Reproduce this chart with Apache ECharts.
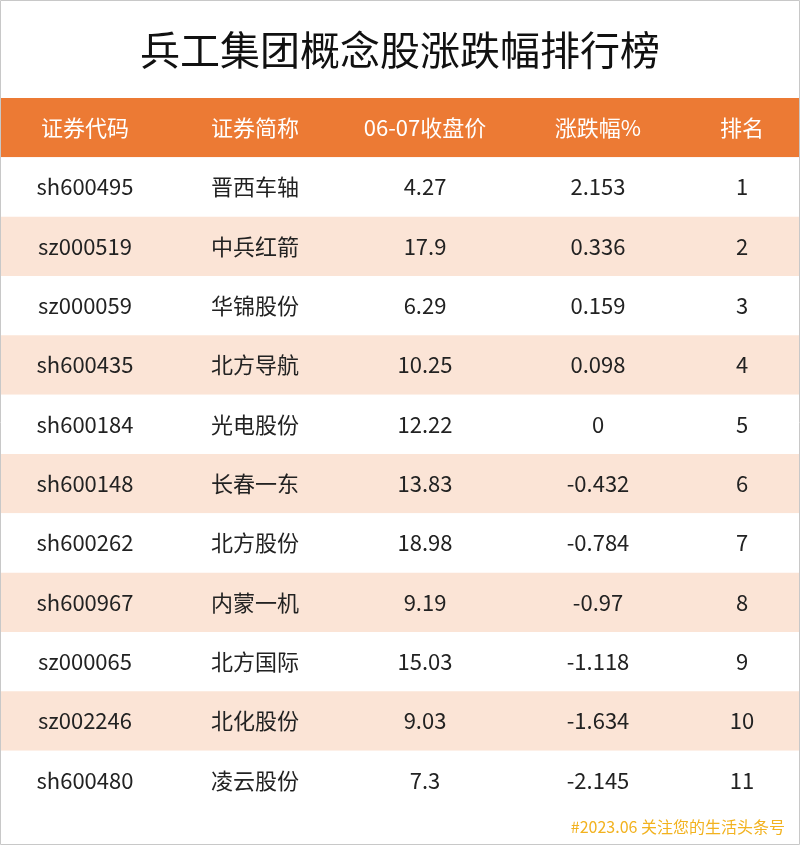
<!DOCTYPE html>
<html><head><meta charset="utf-8">
<script src="https://cdn.jsdelivr.net/npm/echarts@6/dist/echarts.min.js"></script>
<style>html,body{margin:0;padding:0;background:#fff}#c{width:800px;height:845px}</style>
</head><body><div id="c"></div>
<script>
// 表格数据
var headers = ['证券代码', '证券简称', '06-07收盘价', '涨跌幅%', '排名'];
var codes = ['sh600495','sz000519','sz000059','sh600435','sh600184','sh600148','sh600262','sh600967','sz000065','sz002246','sh600480'];
var names = ['晋西车轴','中兵红箭','华锦股份','北方导航','光电股份','长春一东','北方股份','内蒙一机','北方国际','北化股份','凌云股份'];
var prices = ['4.27','17.9','6.29','10.25','12.22','13.83','18.98','9.19','15.03','9.03','7.3'];
var changes = ['2.153','0.336','0.159','0.098','0','-0.432','-0.784','-0.97','-1.118','-1.634','-2.145'];
var ranks = ['1','2','3','4','5','6','7','8','9','10','11'];

var colX = [85, 255, 425, 598, 742];
var rows = [headers];
for (var i = 0; i < codes.length; i++) rows.push([codes[i], names[i], prices[i], changes[i], ranks[i]]);
var rowCats = rows.map(function (r, i) { return 'r' + i; });

var chart = echarts.init(document.getElementById('c'));
chart.setOption({
    animation: false,
    grid: {left: 0, right: 0, top: 98, bottom: 35},
    xAxis: {type: 'value', min: 0, max: 800, show: false},
    yAxis: {type: 'category', data: rowCats, inverse: true, show: false},
    graphic: [
        {type: 'rect', shape: {x: 0.5, y: 0.5, width: 799, height: 844}, style: {fill: 'none', stroke: '#c8c8c8', lineWidth: 1}, z: 10},
        {type: 'text', x: 400, y: 50, style: {text: '兵工集团概念股涨跌幅排行榜', font: '40px "Noto Sans CJK SC"', fill: '#111', align: 'center', verticalAlign: 'middle'}},
        {type: 'text', x: 785, y: 827, style: {text: '#2023.06 关注您的生活头条号', font: '16px "Noto Sans CJK SC"', fill: '#f2b21f', align: 'right', verticalAlign: 'middle'}}
    ],
    series: [{
        type: 'custom',
        data: rows.map(function (r, i) { return [i]; }),
        renderItem: function (params, api) {
            var idx = api.value(0);
            var c = api.coord([0, idx]);
            var h = api.size([0, 1])[1];
            var cs = params.coordSys;
            var fill = idx === 0 ? '#ec7a34' : (idx % 2 === 0 ? '#fbe4d6' : '#ffffff');
            var children = [{type: 'rect', shape: {x: cs.x, y: c[1] - h / 2, width: cs.width, height: h}, style: {fill: fill}}];
            rows[idx].forEach(function (t, j) {
                children.push({type: 'text', x: api.coord([colX[j], idx])[0], y: c[1],
                    style: {text: t, font: '22px "Noto Sans CJK SC"', fill: idx === 0 ? '#fff' : '#222', align: 'center', verticalAlign: 'middle'}});
            });
            return {type: 'group', children: children};
        }
    }]
});
</script></body></html>
